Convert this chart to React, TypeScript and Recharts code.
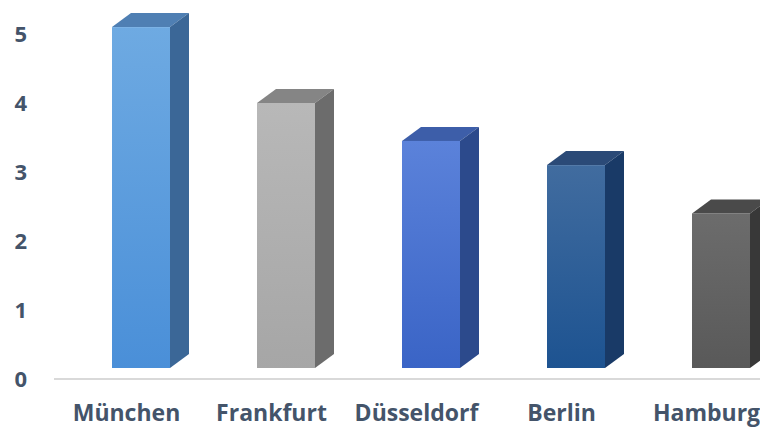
import { BarChart, Bar, XAxis, YAxis } from 'recharts';

const cities = ['München', 'Frankfurt', 'Düsseldorf', 'Berlin', 'Hamburg'];
const values = [5.1, 4.0, 3.45, 3.1, 2.4];
const yTicks = [0, 1, 2, 3, 4, 5];

const data = cities.map((city, i) => ({ city, value: values[i] }));

// face colours per bar: front gradient (top, bottom), top face, side face
const FACES = [
  { front: ['#6eaae2', '#4a8fd8'], top: '#4f7fb3', side: '#3b6797' },
  { front: ['#b8b8b8', '#a6a6a6'], top: '#858585', side: '#6c6c6c' },
  { front: ['#5b82da', '#3a64c6'], top: '#3d5ea9', side: '#2c4a8c' },
  { front: ['#416c9f', '#1d5391'], top: '#2b4a77', side: '#193a67' },
  { front: ['#6c6c6c', '#595959'], top: '#4a4a4a', side: '#383838' },
];

const SHIFT = 14; // front face sits right of the band centre
const LIFT = 11; // front face bottom floats above the axis line
const DX = 19;
const DY = 14;

const TEXT = '#44546a';
const FONT = "'Open Sans', sans-serif";

function Bar3D(props: any) {
  const { x, y, width, height, index } = props;
  const c = FACES[index % FACES.length];
  const l = x + SHIFT;
  const r = l + width;
  const b = y + height - LIFT;
  const id = `front-${index}`;
  return (
    <g>
      <defs>
        <linearGradient id={id} x1="0" y1="0" x2="0" y2="1">
          <stop offset="0%" stopColor={c.front[0]} />
          <stop offset="100%" stopColor={c.front[1]} />
        </linearGradient>
      </defs>
      <polygon points={`${l},${y} ${l + DX},${y - DY} ${r + DX},${y - DY} ${r},${y}`} fill={c.top} />
      <polygon points={`${r},${y} ${r + DX},${y - DY} ${r + DX},${b - DY} ${r},${b}`} fill={c.side} />
      <rect x={l} y={y} width={width} height={b - y} fill={`url(#${id})`} />
    </g>
  );
}

export default function App() {
  const tick = { fill: TEXT, fontSize: 23, fontWeight: 700, fontFamily: FONT };
  return (
    <div style={{ width: 760, height: 422, overflow: 'hidden', position: 'relative' }}>
      <div style={{ position: 'absolute', left: 0, top: -53 }}>
        <BarChart width={800} height={480} data={data} margin={{ top: 10, right: 29, bottom: 26, left: 0 }}>
          <XAxis
            dataKey="city"
            interval={0}
            axisLine={{ stroke: '#d9d9d9', strokeWidth: 2 }}
            tickLine={false}
            tickSize={0}
            tickMargin={26}
            tick={tick}
          />
          <YAxis
            domain={[0, 6]}
            ticks={yTicks}
            width={46}
            axisLine={false}
            tickLine={false}
            tickSize={0}
            tickMargin={27}
            tick={{ ...tick, fontSize: 22 }}
          />
          <Bar dataKey="value" barSize={58} shape={Bar3D} isAnimationActive={false} />
        </BarChart>
      </div>
    </div>
  );
}
